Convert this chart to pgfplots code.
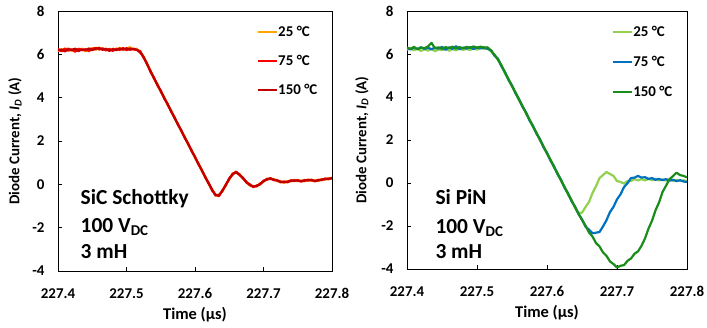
\documentclass[border=0pt]{standalone}
\usepackage{fontspec}
\setmainfont{Carlito}
\usepackage{pgfplots}
\pgfplotsset{compat=1.18}
\usepackage{pgfplotstable}

\definecolor{corange}{HTML}{FFA500}
\definecolor{cred}{HTML}{FF0000}
\definecolor{cdred}{HTML}{C00000}
\definecolor{clgreen}{HTML}{92D050}
\definecolor{cblue}{HTML}{0070C0}
\definecolor{cgreen}{HTML}{1A8C1A}

\pgfplotstableread{
t a b c
227.400 6.15 6.25 6.18
227.405 6.24 6.14 6.22
227.410 6.19 6.27 6.13
227.415 6.28 6.17 6.24
227.420 6.16 6.23 6.20
227.425 6.25 6.12 6.26
227.430 6.18 6.26 6.15
227.435 6.27 6.19 6.23
227.440 6.14 6.24 6.18
227.445 6.23 6.15 6.27
227.450 6.29 6.25 6.20
227.455 6.20 6.30 6.26
227.460 6.32 6.22 6.29
227.465 6.22 6.28 6.21
227.470 6.26 6.18 6.25
227.475 6.17 6.25 6.16
227.480 6.27 6.16 6.24
227.485 6.19 6.26 6.19
227.490 6.30 6.20 6.27
227.495 6.21 6.29 6.22
227.500 6.26 6.19 6.28
227.505 6.33 6.27 6.21
227.510 6.22 6.23 6.26
227.515 6.26 6.20 6.21
227.520 6.10 6.15 6.08
227.525 5.90 5.84 5.88
227.530 5.52 5.58 5.55
227.535 5.26 5.19 5.23
227.540 4.88 4.94 4.90
227.545 4.64 4.57 4.61
227.550 4.27 4.33 4.30
227.555 4.03 3.96 4.00
227.560 3.66 3.72 3.69
227.565 3.42 3.36 3.39
227.570 3.05 3.11 3.07
227.575 2.81 2.75 2.78
227.580 2.44 2.50 2.47
227.585 2.20 2.14 2.17
227.590 1.83 1.89 1.86
227.595 1.59 1.53 1.56
227.600 1.22 1.28 1.25
227.605 0.98 0.92 0.95
227.610 0.61 0.67 0.64
227.615 0.37 0.31 0.34
227.620 0.01 0.07 0.03
227.625 -0.22 -0.29 -0.25
227.630 -0.53 -0.47 -0.51
227.635 -0.47 -0.55 -0.50
227.640 -0.33 -0.27 -0.31
227.645 0.01 -0.05 -0.02
227.650 0.22 0.28 0.25
227.655 0.51 0.45 0.48
227.660 0.52 0.59 0.56
227.665 0.48 0.42 0.45
227.670 0.25 0.31 0.28
227.675 0.13 0.08 0.11
227.680 -0.06 0.00 -0.03
227.685 -0.07 -0.13 -0.10
227.690 -0.11 -0.05 -0.08
227.695 0.05 -0.01 0.02
227.700 0.11 0.17 0.14
227.705 0.27 0.21 0.24
227.710 0.23 0.29 0.26
227.715 0.25 0.19 0.22
227.720 0.14 0.20 0.17
227.725 0.15 0.09 0.12
227.730 0.07 0.13 0.10
227.735 0.15 0.09 0.12
227.740 0.13 0.19 0.16
227.745 0.21 0.15 0.18
227.750 0.14 0.20 0.17
227.755 0.18 0.12 0.15
227.760 0.14 0.20 0.17
227.765 0.23 0.17 0.20
227.770 0.16 0.22 0.19
227.775 0.19 0.13 0.16
227.780 0.15 0.21 0.18
227.785 0.25 0.19 0.22
227.790 0.21 0.27 0.24
227.795 0.29 0.23 0.26
227.800 0.25 0.31 0.28
}\leftdata

\pgfplotstableread{
t a b c
227.400 6.20 6.28 6.30
227.405 6.26 6.21 6.24
227.410 6.17 6.30 6.33
227.415 6.25 6.23 6.22
227.420 6.14 6.31 6.30
227.425 6.22 6.24 6.27
227.430 6.16 6.29 6.35
227.435 6.24 6.22 6.52
227.440 6.13 6.30 6.26
227.445 6.21 6.25 6.31
227.450 6.18 6.33 6.24
227.455 6.25 6.20 6.32
227.460 6.15 6.31 6.27
227.465 6.23 6.24 6.34
227.470 6.17 6.36 6.25
227.475 6.26 6.22 6.32
227.480 6.19 6.30 6.26
227.485 6.24 6.25 6.33
227.490 6.18 6.32 6.28
227.495 6.27 6.23 6.35
227.500 6.20 6.31 6.29
227.505 6.28 6.26 6.34
227.510 6.24 6.30 6.30
227.515 6.26 6.24 6.31
227.520 6.12 6.18 6.16
227.525 5.97 5.92 5.96
227.530 5.72 5.78 5.74
227.535 5.48 5.42 5.46
227.540 5.10 5.16 5.13
227.545 4.85 4.79 4.82
227.550 4.48 4.54 4.51
227.555 4.23 4.17 4.20
227.560 3.85 3.91 3.88
227.565 3.60 3.54 3.57
227.570 3.23 3.29 3.26
227.575 2.97 2.91 2.94
227.580 2.60 2.66 2.63
227.585 2.35 2.29 2.32
227.590 1.98 2.04 2.01
227.595 1.72 1.66 1.69
227.600 1.35 1.41 1.38
227.605 1.10 1.04 1.07
227.610 0.72 0.78 0.75
227.615 0.47 0.41 0.44
227.620 0.10 0.16 0.13
227.625 -0.16 -0.22 -0.19
227.630 -0.53 -0.47 -0.50
227.635 -0.78 -0.84 -0.81
227.640 -1.15 -1.09 -1.12
227.645 -1.39 -1.45 -1.42
227.650 -1.38 -1.69 -1.72
227.655 -1.12 -2.03 -1.98
227.660 -0.88 -2.17 -2.30
227.665 -0.47 -2.34 -2.49
227.670 -0.15 -2.31 -2.79
227.675 0.23 -2.28 -2.95
227.680 0.37 -2.02 -3.23
227.685 0.51 -1.73 -3.39
227.690 0.42 -1.35 -3.65
227.695 0.33 -1.11 -3.77
227.700 0.09 -0.76 -3.93
227.705 0.05 -0.53 -3.85
227.710 -0.03 -0.19 -3.82
227.715 0.09 -0.01 -3.62
227.720 0.09 0.23 -3.51
227.725 0.18 0.25 -3.29
227.730 0.12 0.33 -3.18
227.735 0.18 0.25 -2.92
227.740 0.12 0.27 -2.58
227.745 0.19 0.19 -2.12
227.750 0.13 0.23 -1.76
227.755 0.18 0.15 -1.27
227.760 0.12 0.19 -0.91
227.765 0.17 0.13 -0.42
227.770 0.11 0.18 -0.13
227.775 0.16 0.11 0.18
227.780 0.10 0.15 0.32
227.785 0.14 0.09 0.48
227.790 0.09 0.13 0.37
227.795 0.13 0.07 0.33
227.800 0.08 0.05 0.26
}\rightdata

\tikzset{annot/.style={anchor=base west, font=\bfseries\fontsize{21.5}{21.5}\selectfont}}

\pgfplotsset{
  myaxis/.style={
    scale only axis,
    xmin=227.4, xmax=227.8, ymin=-4, ymax=8,
    xtick={227.4,227.5,227.6,227.7,227.8},
    xticklabels={227.4,227.5,227.6,227.7,227.8},
    ytick={-4,-2,0,2,4,6,8},
    tick align=inside, tick pos=left, major tick length=4bp,
    axis line style={line width=0.9bp, black},
    every tick/.style={black, line width=0.9bp},
    /pgf/number format/assume math mode=true,
    tick label style={font=\bfseries\fontsize{15}{15}\selectfont},
    xticklabel style={yshift=-14bp},
    yticklabel style={xshift=-10bp},
    xlabel={Time (µs)},
    ylabel={Diode Current, \textit{I}\textsubscript{\textit{D}} (A)},
    every axis x label/.style={at={(rel axis cs:0.5,-0.168)}, anchor=center,
      font=\bfseries\fontsize{16.5}{16.5}\selectfont},
    legend cell align=left,
    legend image code/.code={\draw[#1, line width=1.8bp] (0bp,0bp) -- (19bp,0bp);},
    legend style={draw=none, fill=none, inner sep=0pt, outer sep=0pt,
      font=\bfseries\fontsize{15}{15}\selectfont, row sep=17bp,
      nodes={inner sep=0.5bp, text height=10bp, text depth=1bp},
      /tikz/every even column/.append style={column sep=1bp}},
    clip=true,
  },
  trace/.style={line width=2.2bp, line join=round},
}

\begin{document}
\begin{tikzpicture}
\useasboundingbox (-58bp,-57bp) rectangle (649bp,271bp);
\begin{axis}[myaxis, width=274bp, height=260bp, at={(0bp,0bp)},
  every axis y label/.style={at={(rel axis cs:-0.157,0.5)}, anchor=center, rotate=90,
    font=\bfseries\fontsize{15}{15}\selectfont},
  legend style={at={(rel axis cs:0.726,0.942)}, anchor=north west}]
\addlegendimage{corange, trace}
\addlegendimage{cred, trace}
\addlegendimage{cdred, trace}
\addplot[corange, trace, forget plot] table[x=t, y=a] {\leftdata};
\addplot[cred, trace, forget plot] table[x=t, y=b] {\leftdata};
\addplot[cdred, trace, forget plot] table[x=t, y=c] {\leftdata};
\legend{25 °C, 75 °C, 150 °C}
\node[annot] at (axis cs:227.428,-0.95) {SiC Schottky};
\node[annot] at (axis cs:227.428,-2.24) {100 V\textsubscript{DC}};
\node[annot] at (axis cs:227.428,-3.40) {3 mH};
\end{axis}
\begin{axis}[myaxis, width=280bp, height=258bp, at={(349bp,2bp)},
  every axis y label/.style={at={(rel axis cs:-0.161,0.5)}, anchor=center, rotate=90,
    font=\bfseries\fontsize{15}{15}\selectfont},
  legend style={at={(rel axis cs:0.732,0.942)}, anchor=north west, row sep=18bp}]
\addplot[clgreen, trace] table[x=t, y=a] {\rightdata};
\addplot[cblue, trace] table[x=t, y=b] {\rightdata};
\addplot[cgreen, trace] table[x=t, y=c] {\rightdata};
\legend{25 °C, 75 °C, 150 °C}
\node[annot] at (axis cs:227.4357,-1.02) {Si PiN};
\node[annot] at (axis cs:227.4357,-2.33) {100 V\textsubscript{DC}};
\node[annot] at (axis cs:227.4357,-3.49) {3 mH};
\end{axis}
\end{tikzpicture}
\end{document}
